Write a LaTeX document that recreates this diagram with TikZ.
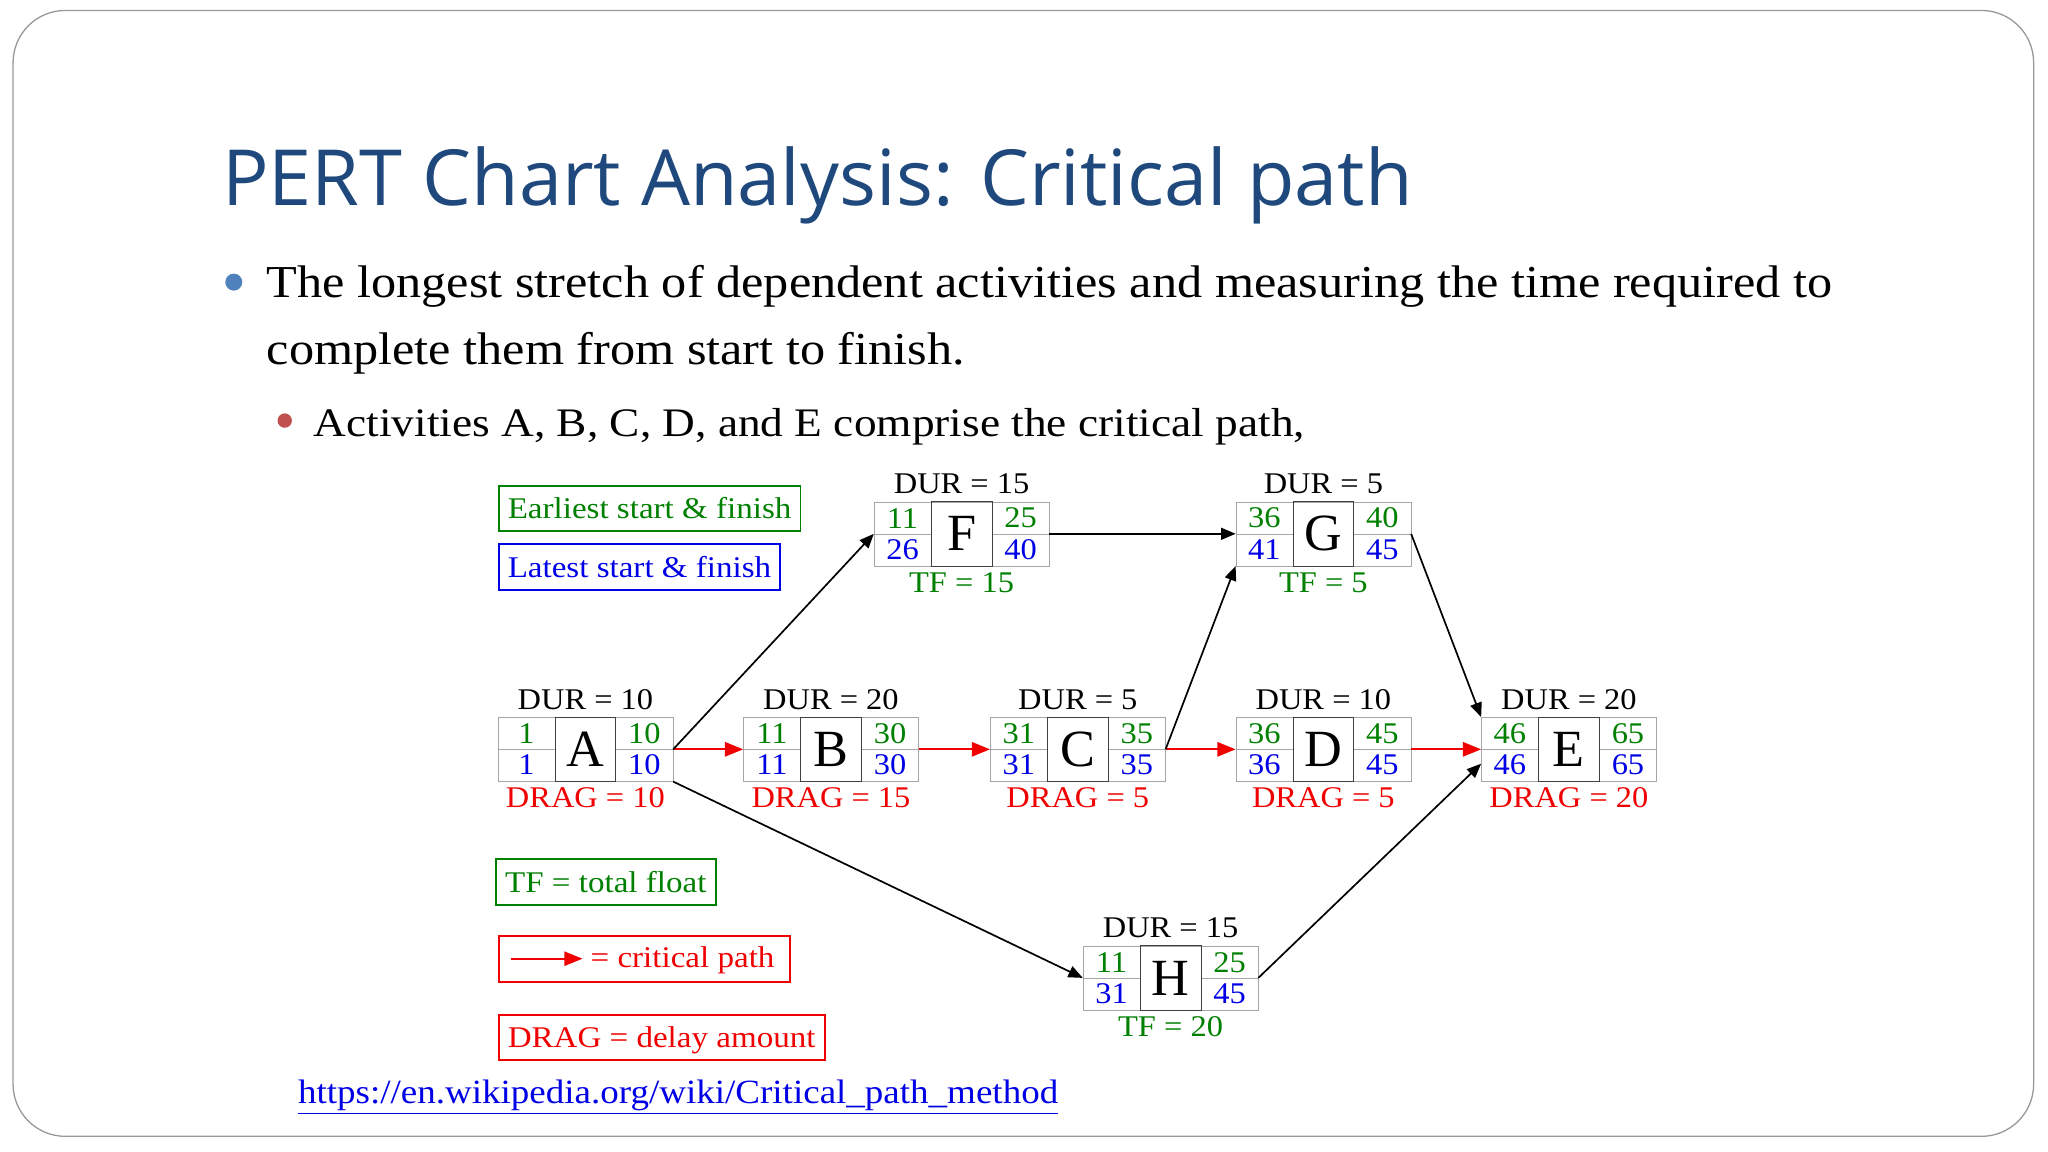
\documentclass[tikz,border=0pt]{standalone}
\usepackage{fontspec}
\usepackage{graphicx}
\setmainfont{Liberation Serif}
\newfontfamily\titlefont{Open Sans}
\usetikzlibrary{arrows.meta}
\definecolor{tblue}{RGB}{31,73,125}
\definecolor{gr}{RGB}{0,128,0}
\definecolor{bl}{RGB}{0,0,230}
\definecolor{rd}{RGB}{240,0,0}
\definecolor{dotblue}{RGB}{79,129,189}
\definecolor{dotred}{RGB}{192,80,77}
\newcommand{\sx}[2]{\scalebox{#1}[1]{#2}}
\newcommand{\pnode}[9]{%
 \node[draw=gray!70,minimum width=134pt,minimum height=49pt,inner sep=0,anchor=north west] (#1) at (#2,#3) {};
 \draw[gray!70] ([xshift=44pt]#1.north west) -- ([xshift=44pt]#1.south west)
   ([xshift=-44pt]#1.north east) -- ([xshift=-44pt]#1.south east)
   (#1.west) -- ([xshift=44pt]#1.west) (#1.east) -- ([xshift=-44pt]#1.east);
 \draw[black!75] ([xshift=44pt]#1.north west) rectangle ([xshift=-44pt]#1.south east);
 \node[num,text=gr] at ([xshift=22pt,yshift=12pt]#1.west) {\sx{1.08}{#5}};
 \node[num,text=bl] at ([xshift=22pt,yshift=-12pt]#1.west) {\sx{1.08}{#7}};
 \node[num,text=gr] at ([xshift=-22pt,yshift=12pt]#1.east) {\sx{1.08}{#6}};
 \node[num,text=bl] at ([xshift=-22pt,yshift=-12pt]#1.east) {\sx{1.08}{#8}};
 \node[font=\fontsize{40}{40}\selectfont] at (#1.center) {#4};
 \node[num,anchor=base] (#1dur) at ([yshift=6pt]#1.north) {\sx{1.08}{DUR = #9}};
}
\tikzset{num/.style={font=\fontsize{23}{23}\selectfont,inner sep=0},
 lab/.style={font=\fontsize{23}{23}\selectfont,inner sep=0,anchor=base},
 legend/.style={draw,line width=1.5pt,font=\fontsize{23}{23}\selectfont,anchor=north west,minimum height=35pt,inner xsep=7pt,text depth=0pt},
 blk/.style={-{Triangle[length=11pt,width=9pt]},line width=1.3pt},
 crit/.style={-{Triangle[length=14pt,width=11pt]},line width=1.5pt,rd}}
\begin{document}
\begin{tikzpicture}[x=1pt,y=-1pt]
\useasboundingbox (0,0) rectangle (1568,882);
\fill[white] (0,0) rectangle (1568,882);
\draw[gray!80,line width=1pt,rounded corners=40pt] (10,8) rectangle (1557,870);
\node[anchor=base west,inner sep=0,text=tblue,font=\titlefont\fontsize{59.3}{60}\selectfont] (title) at (170,157) {PERT Chart Analysis: Critical path};
\fill[dotblue] (179,216) circle (6.5pt);
\node[anchor=base west,inner sep=0,font=\fontsize{35}{50}\selectfont] (b1) at (204,228) {\sx{1.10}{The longest stretch of dependent activities and measuring the time required to}};
\node[anchor=base west,inner sep=0,font=\fontsize{35}{50}\selectfont] (b2) at (204,279) {\sx{1.10}{complete them from start to finish.}};
\fill[dotred] (218,322) circle (5.5pt);
\node[anchor=base west,inner sep=0,font=\fontsize{31}{40}\selectfont] (b3) at (240,334) {\sx{1.12}{Activities A, B, C, D, and E comprise the critical path,}};

\pnode{A}{381}{549}{A}{1}{10}{1}{10}{10}
\pnode{B}{569}{549}{B}{11}{30}{11}{30}{20}
\pnode{C}{758}{549}{C}{31}{35}{31}{35}{5}
\pnode{D}{946}{549}{D}{36}{45}{36}{45}{10}
\pnode{E}{1134}{549}{E}{46}{65}{46}{65}{20}
\pnode{F}{669}{384}{F}{11}{25}{26}{40}{15}
\pnode{G}{946}{384}{G}{36}{40}{41}{45}{5}
\pnode{H}{829}{724}{H}{11}{25}{31}{45}{15}
\node[lab,text=rd] at ([yshift=-20pt]A.south) {\sx{1.08}{DRAG = 10}};
\node[lab,text=rd] at ([yshift=-20pt]B.south) {\sx{1.08}{DRAG = 15}};
\node[lab,text=rd] at ([yshift=-20pt]C.south) {\sx{1.08}{DRAG = 5}};
\node[lab,text=rd] at ([yshift=-20pt]D.south) {\sx{1.08}{DRAG = 5}};
\node[lab,text=rd] at ([yshift=-20pt]E.south) {\sx{1.08}{DRAG = 20}};
\node[lab,text=gr] at ([yshift=-20pt]F.south) {\sx{1.08}{TF = 15}};
\node[lab,text=gr] at ([yshift=-20pt]G.south) {\sx{1.08}{TF = 5}};
\node[lab,text=gr] at ([yshift=-20pt]H.south) {\sx{1.08}{TF = 20}};

\draw[crit] (A.east) -- (B.west);
\draw[crit] (B.east) -- (C.west);
\draw[crit] (C.east) -- (D.west);
\draw[crit] (D.east) -- (E.west);
\draw[blk] (A.east) -- (F.west);
\draw[blk] (A.south east) -- (H.west);
\draw[blk] (F.east) -- (G.west);
\draw[blk] (C.east) -- (G.south west);
\draw[blk] (G.east) -- (E.north west);
\draw[blk] (H.east) -- ([yshift=-11pt]E.west);

\node[legend,gr,text=gr] (l1) at (381,371) {\sx{1.1}{Earliest start \& finish}};
\node[legend,bl,text=bl] (l2) at (381,416) {\sx{1.1}{Latest start \& finish}};
\node[legend,gr,text=gr] (l3) at (379,657) {\sx{1.1}{TF = total float}};
\node[legend,rd,text=rd,minimum width=223pt] (l4) at (381,716) {};
\coordinate (l4a) at (391,734);
\coordinate (l4b) at (446,734);
\draw[crit,line width=1.3pt] (l4a) -- (l4b);
\node[lab,text=rd,anchor=base west] at (452,741) {\sx{1.1}{= critical path}};
\node[legend,rd,text=rd] (l5) at (381,776) {\sx{1.1}{DRAG = delay amount}};
\node[anchor=base west,inner sep=0,text=bl,font=\fontsize{26}{26}\selectfont] (link) at (228,845) {\underline{\sx{1.09}{https://en.wikipedia.org/wiki/Critical\_path\_method}}};
\end{tikzpicture}
\end{document}
